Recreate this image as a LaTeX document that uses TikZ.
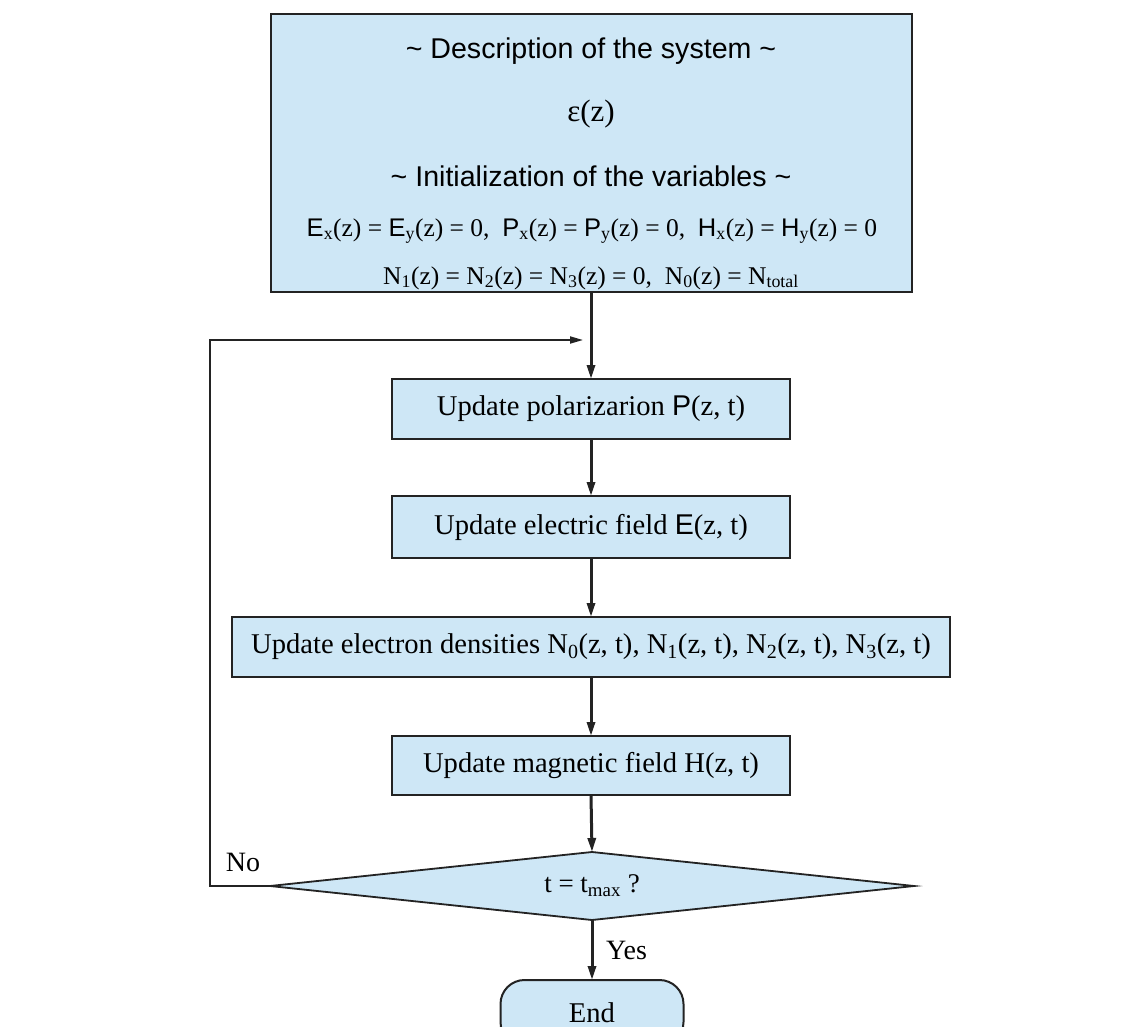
\documentclass[tikz,border=0pt]{standalone}
\usepackage{fontspec}
\setmainfont{Liberation Serif}
\newfontfamily\arialf{Liberation Sans}
\usetikzlibrary{shapes.geometric,arrows.meta}
\definecolor{boxblue}{RGB}{206,231,246}
\definecolor{edgec}{RGB}{35,35,35}
\newcommand{\sbs}[1]{\textsubscript{#1}}
\begin{document}
\begin{tikzpicture}[x=1pt,y=-1pt,
  box/.style={draw=edgec, line width=2pt, fill=boxblue, inner sep=0pt, outer sep=0pt, font=\fontsize{28.6}{34}\selectfont},
  flow/.style={line width=3pt, draw=edgec, -{Triangle[length=14pt,width=8pt]}},
  loopline/.style={line width=1.8pt, draw=edgec, -{Triangle[length=13pt,width=7pt]}},
  headtxt/.style={font=\arialf\fontsize{28.6}{34}\selectfont, inner sep=0pt},
  eqtxt/.style={font=\fontsize{25.5}{30}\selectfont, inner sep=0pt},
  lbl/.style={font=\fontsize{28}{33}\selectfont, inner sep=0pt}]
\useasboundingbox (0,0) rectangle (1148,1027);
\fill[white] (0,0) rectangle (1148,1027);

% top box
\node[box, minimum width=641pt, minimum height=278pt] (sys) at (591.5,153) {};
\node[headtxt] (t1) at (591,51) {\textasciitilde\ Description of the system \textasciitilde};
\node[font=\fontsize{31}{36}\selectfont, inner sep=0pt] (t2) at (591,114) {ε(z)};
\node[headtxt] (t3) at (591,176) {\textasciitilde\ Initialization of the variables \textasciitilde};
\node[eqtxt] (t4) at (592,231) {{\arialf E}\sbs{x}(z) = {\arialf E}\sbs{y}(z) = 0,\ \ {\arialf P}\sbs{x}(z) = {\arialf P}\sbs{y}(z) = 0,\ \ {\arialf H}\sbs{x}(z) = {\arialf H}\sbs{y}(z) = 0};
\node[eqtxt] (t5) at (591,278) {N\sbs{1}(z) = N\sbs{2}(z) = N\sbs{3}(z) = 0,\ \ N\sbs{0}(z) = N\sbs{total}};

% process boxes
\node[box, minimum width=398pt, minimum height=60pt] (pol) at (591,409) {Update polarizarion {\arialf P}(z, t)};
\node[box, minimum width=398pt, minimum height=62pt] (ele) at (591,527) {Update electric field {\arialf E}(z, t)};
\node[box, minimum width=718pt, minimum height=60pt] (den) at (591,647) {Update electron densities N\sbs{0}(z, t), N\sbs{1}(z, t), N\sbs{2}(z, t), N\sbs{3}(z, t)};
\node[box, minimum width=398pt, minimum height=59pt] (mag) at (591,765.5) {Update magnetic field H(z, t)};

% decision
\node[diamond, draw=edgec, line width=1.8pt, fill=boxblue, aspect=9.5, minimum width=644pt, minimum height=68pt, inner sep=0pt, outer sep=0pt, font=\fontsize{27}{32}\selectfont] (dec) at (592,886) {t = t\sbs{max} ?};

% end
\node[box, rounded corners=24pt, minimum width=183pt, minimum height=66pt] (end) at (592,1013) {End};

% connectors
\draw[flow] (sys.south -| pol.north) -- (pol.north);
\draw[flow] (pol.south) -- (ele.north);
\draw[flow] (ele.south) -- (den.north);
\draw[flow] (den.south) -- (mag.north);
\draw[flow] (mag.south) -- (dec.north);
\draw[flow] (dec.south) -- (end.north);

\coordinate (fbc) at (210,340);
\coordinate (fbe) at (583,340);
\draw[loopline] (dec.west) -| (fbc) -- (fbe);

\node[lbl] (no) at (243,862) {No};
\node[lbl, anchor=west] (yes) at (606,950) {Yes};
\end{tikzpicture}
\end{document}
